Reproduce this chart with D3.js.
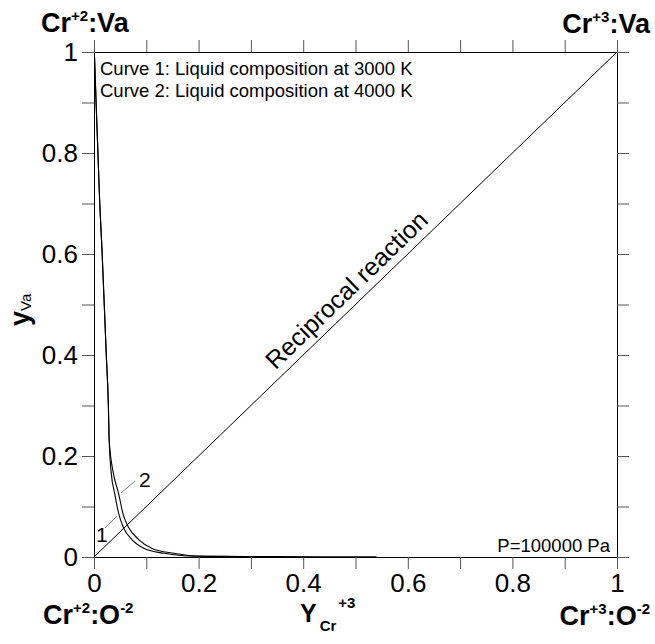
<!DOCTYPE html>
<html>
<head>
<meta charset="utf-8">
<script src="https://cdn.jsdelivr.net/npm/d3@7"></script>
<style>
  body { margin: 0; background: #fff; }
  text { font-family: "Liberation Sans", Arial, sans-serif; fill: #000; }
</style>
</head>
<body>
<div id="canvas"></div>
<script>
"use strict";

/* Data */
// curve 1 = liquid at 3000 K, curve 2 = liquid at 4000 K
let curve1X = [0.001, 0.004, 0.0075, 0.011, 0.0153, 0.0196, 0.0235, 0.0275, 0.029, 0.033, 0.0395, 0.047, 0.056, 0.073, 0.096, 0.134, 0.172, 0.22, 0.30];
let curve1Y = [0.99, 0.90, 0.80, 0.70, 0.608, 0.50, 0.40, 0.30, 0.232, 0.166, 0.126, 0.087, 0.059, 0.034, 0.017, 0.0073, 0.0026, 0.0012, 0.0008];
let curve2X = [0.001, 0.004, 0.0075, 0.011, 0.0153, 0.0196, 0.0235, 0.0275, 0.029, 0.037, 0.047, 0.055, 0.066, 0.086, 0.111, 0.153, 0.187, 0.25, 0.35, 0.54];
let curve2Y = [0.99, 0.90, 0.80, 0.70, 0.608, 0.50, 0.40, 0.30, 0.232, 0.166, 0.126, 0.087, 0.059, 0.034, 0.017, 0.0073, 0.0026, 0.0012, 0.0008, 0.0005];
let diagonalX = [0, 1];
let diagonalY = [0, 1];
let tickValues = [0, 0.1, 0.2, 0.3, 0.4, 0.5, 0.6, 0.7, 0.8, 0.9, 1];
let labelledTicks = [0, 0.2, 0.4, 0.6, 0.8, 1];
let legendLines = ["Curve 1: Liquid composition at 3000 K", "Curve 2: Liquid composition at 4000 K"];

/* Drawing setup */
let svgWidth = 655;
let svgHeight = 644;
let plotLeft = 94, plotTop = 52, plotRight = 617, plotBottom = 557;

let svg = d3.select("#canvas").append("svg")
  .attr("width", svgWidth)
  .attr("height", svgHeight);

let xScale = d3.scaleLinear().domain([0, 1]).range([plotLeft, plotRight]);
let yScale = d3.scaleLinear().domain([0, 1]).range([plotBottom, plotTop]);

function fmt(d) {
  if (labelledTicks.indexOf(Math.round(d * 10) / 10) < 0) return "";
  return d3.format("~g")(d);
}

/* Axes: ticks every 0.1, labels every 0.2, ticks point outwards on all 4 sides */
let axes = [
  { axis: d3.axisBottom(xScale).tickFormat(fmt).tickPadding(5), tr: "translate(0," + plotBottom + ")" },
  { axis: d3.axisLeft(yScale).tickFormat(fmt).tickPadding(4), tr: "translate(" + plotLeft + ",0)" },
  { axis: d3.axisTop(xScale).tickFormat(""), tr: "translate(0," + plotTop + ")" },
  { axis: d3.axisRight(yScale).tickFormat(""), tr: "translate(" + plotRight + ",0)" }
];
axes.forEach(function (a) {
  let g = svg.append("g")
    .attr("transform", a.tr)
    .call(a.axis.tickValues(tickValues).tickSize(12).tickSizeOuter(0));
  g.select(".domain").attr("stroke", "#000");
  g.selectAll(".tick line").attr("stroke", "#555");
  g.selectAll(".tick text")
    .style("font-family", "'Liberation Sans', Arial, sans-serif")
    .attr("font-size", "26px")
    .attr("fill", "#000");
});

/* Lines */
let line = d3.line()
  .x(function (d) { return xScale(d[0]); })
  .y(function (d) { return yScale(d[1]); });

svg.append("path")
  .datum(d3.zip(diagonalX, diagonalY))
  .attr("d", line)
  .attr("fill", "none")
  .attr("stroke", "#000")
  .attr("stroke-width", 1);

let curveLine = d3.line()
  .x(function (d) { return xScale(d[0]); })
  .y(function (d) { return yScale(d[1]); })
  .curve(d3.curveMonotoneX);

[d3.zip(curve1X, curve1Y), d3.zip(curve2X, curve2Y)].forEach(function (pts) {
  svg.append("path")
    .datum(pts)
    .attr("d", curveLine)
    .attr("fill", "none")
    .attr("stroke", "#000")
    .attr("stroke-width", 1.1);
});

/* Curve number labels with leader lines */
svg.append("line")
  .attr("x1", 105).attr("y1", 528).attr("x2", 117).attr("y2", 516)
  .attr("stroke", "#777").attr("stroke-width", 1);
svg.append("line")
  .attr("x1", 121).attr("y1", 493).attr("x2", 135).attr("y2", 481)
  .attr("stroke", "#777").attr("stroke-width", 1);
svg.append("text").attr("x", 96).attr("y", 542).attr("font-size", "21px").text("1");
svg.append("text").attr("x", 139).attr("y", 487).attr("font-size", "21px").text("2");

/* Reciprocal reaction label along the diagonal */
let angle = -Math.atan((plotBottom - plotTop) / (plotRight - plotLeft)) * 180 / Math.PI;
svg.append("text")
  .attr("transform", "translate(" + xScale(0.505) + "," + yScale(0.505) + ") rotate(" + angle + ")")
  .attr("y", -8)
  .attr("text-anchor", "middle")
  .attr("font-size", "25px")
  .text("Reciprocal reaction");

/* Legend text */
legendLines.forEach(function (s, i) {
  svg.append("text")
    .attr("x", 100)
    .attr("y", 75 + i * 22)
    .attr("font-size", "18.5px")
    .text(s);
});

svg.append("text")
  .attr("x", 610)
  .attr("y", 552)
  .attr("text-anchor", "end")
  .attr("font-size", "18.5px")
  .text("P=100000 Pa");

/* Corner labels */
function corner(x, y, anchor, parts) {
  let t = svg.append("text")
    .attr("x", x).attr("y", y)
    .attr("text-anchor", anchor)
    .attr("font-weight", "bold")
    .attr("font-size", "27px");
  parts.forEach(function (p) {
    t.append("tspan")
      .attr("font-size", p[1] ? "15px" : "27px")
      .attr("dy", p[1] ? -11 : (p[2] ? 11 : 0))
      .text(p[0]);
  });
}
corner(41, 32, "start", [["Cr"], ["+2", true], [":Va", false, true]]);
corner(650, 33, "end", [["Cr"], ["+3", true], [":Va", false, true]]);
corner(43, 624, "start", [["Cr"], ["+2", true], [":O", false, true], ["-2", true]]);
corner(650, 625, "end", [["Cr"], ["+3", true], [":O", false, true], ["-2", true]]);

/* Axis titles */
let xTitle = svg.append("text")
  .attr("x", 300).attr("y", 622)
  .attr("font-weight", "bold")
  .attr("font-size", "25px");
xTitle.append("tspan").text("Y");
xTitle.append("tspan").attr("font-size", "15px").attr("dy", 9).attr("dx", 3).text("Cr");
xTitle.append("tspan").attr("font-size", "15px").attr("dy", -23).attr("dx", 2).text("+3");

let yTitle = svg.append("text")
  .attr("transform", "translate(29,326) rotate(-90)")
  .attr("font-weight", "bold")
  .attr("font-size", "27px");
yTitle.append("tspan").text("y");
yTitle.append("tspan").attr("font-size", "15px").attr("font-weight", "normal").attr("dy", 2).text("Va");
</script>
</body>
</html>
